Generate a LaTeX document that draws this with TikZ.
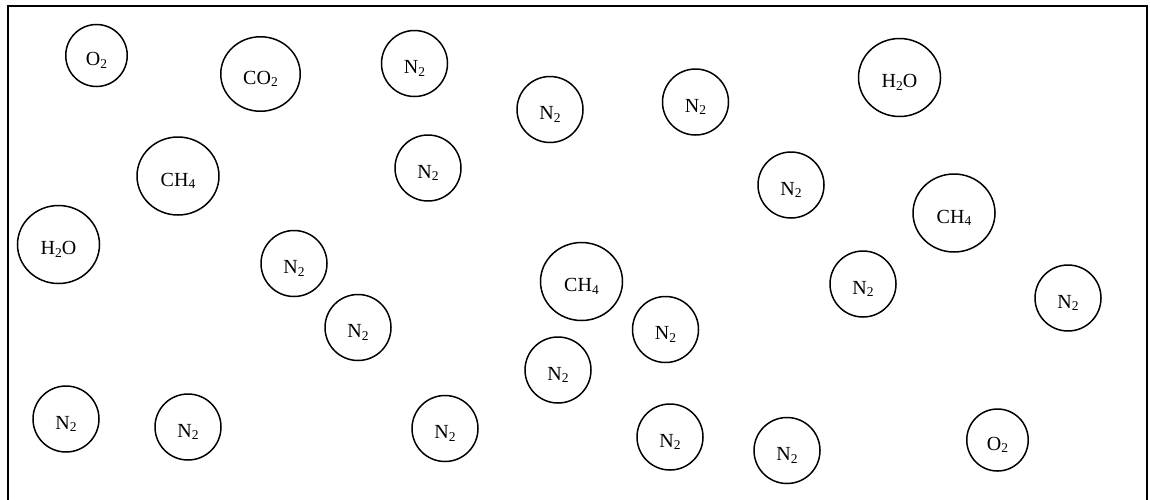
\documentclass[tikz,border=0pt]{standalone}
\usepackage{fontspec}
\setmainfont{Liberation Serif}
\usetikzlibrary{shapes.geometric}
\newcommand\lowsub[1]{\raisebox{-2.7pt}{\fontsize{13.5}{14}\selectfont #1}}
\tikzset{
  mol/.style={draw, ellipse, line width=1.5pt, inner sep=0pt,
    text height=20pt, text depth=0pt,
    font=\fontsize{20}{24}\selectfont},
  nitro/.style={mol, minimum width=66pt, minimum height=66pt},
  oxy/.style={mol, minimum width=61.5pt, minimum height=62pt},
  big/.style={mol, minimum width=82pt, minimum height=78pt},
  carb/.style={mol, minimum width=79.5pt, minimum height=74.5pt},
  frame/.style={draw, line width=2pt}
}
\begin{document}
\begin{tikzpicture}[x=1pt,y=-1pt]
\clip (0,0) rectangle (1150,499);
\draw[frame] (8,6) rectangle (1147,530);
\node[oxy]   (o1)  at (96.5,55.5)  {O\lowsub{2}};
\node[carb]  (co)  at (260.5,74)   {CO\lowsub{2}};
\node[nitro] (n1)  at (414.5,63.5) {N\lowsub{2}};
\node[nitro] (n2)  at (550,109.5)  {N\lowsub{2}};
\node[nitro] (n3)  at (695.5,102)  {N\lowsub{2}};
\node[big]   (h1)  at (899.5,77.5) {H\lowsub{2}O};
\node[big]   (c1)  at (178,176)    {CH\lowsub{4}};
\node[nitro] (n4)  at (428,168)    {N\lowsub{2}};
\node[nitro] (n5)  at (791,185)    {N\lowsub{2}};
\node[big]   (c2)  at (954,213)    {CH\lowsub{4}};
\node[big]   (h2)  at (58.5,244.5) {H\lowsub{2}O};
\node[nitro] (n6)  at (294,263.5)  {N\lowsub{2}};
\node[big]   (c3)  at (581.5,281.5) {CH\lowsub{4}};
\node[nitro] (n7)  at (863,284)    {N\lowsub{2}};
\node[nitro] (n8)  at (1068,298)   {N\lowsub{2}};
\node[nitro] (n9)  at (358,327.5)  {N\lowsub{2}};
\node[nitro] (n10) at (665.5,329.5) {N\lowsub{2}};
\node[nitro] (n11) at (558,370)    {N\lowsub{2}};
\node[nitro] (n12) at (66,419)     {N\lowsub{2}};
\node[nitro] (n13) at (188,427)    {N\lowsub{2}};
\node[nitro] (n14) at (445,428.5)  {N\lowsub{2}};
\node[nitro] (n15) at (670,437)    {N\lowsub{2}};
\node[nitro] (n16) at (787,450.5)  {N\lowsub{2}};
\node[oxy]   (o2)  at (997.5,440)  {O\lowsub{2}};
\end{tikzpicture}
\end{document}
